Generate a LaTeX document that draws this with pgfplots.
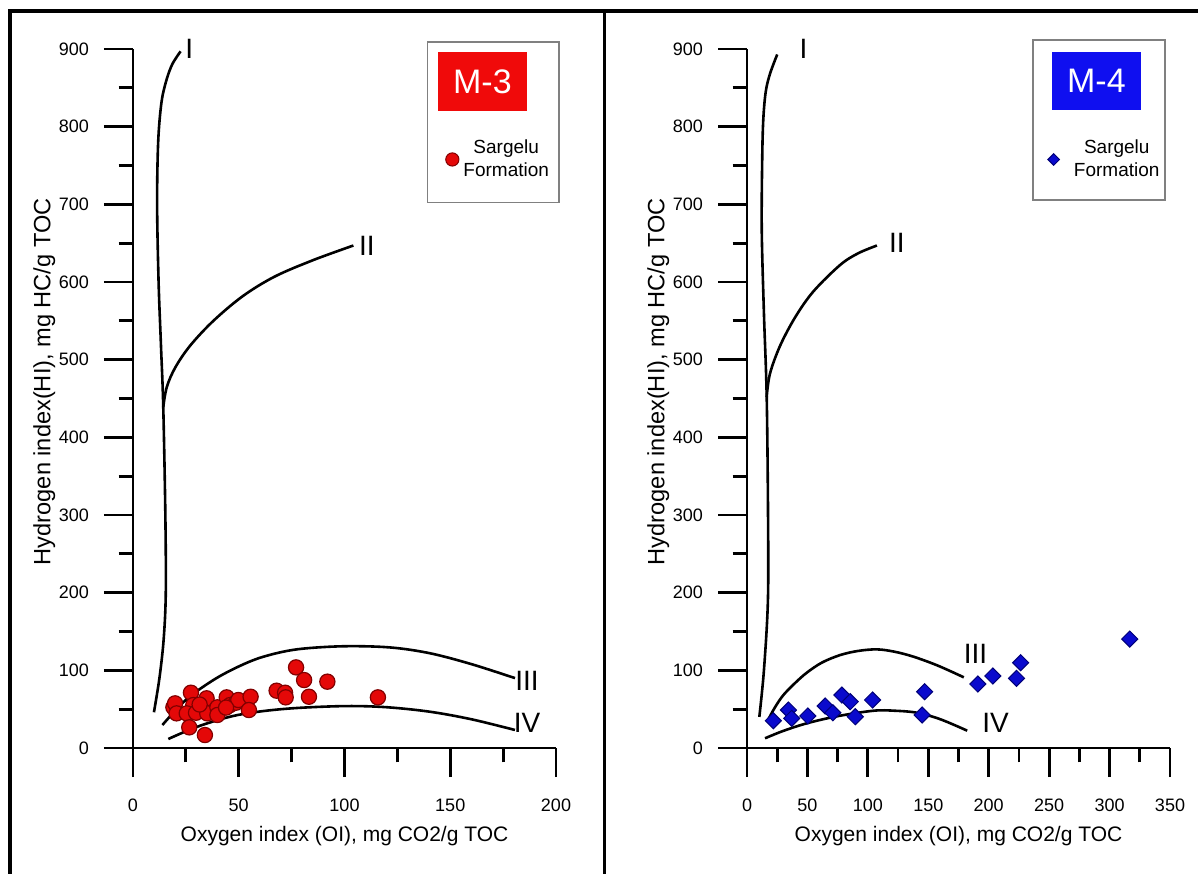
\documentclass[border=0pt]{standalone}
\usepackage{pgfplots}
\pgfplotsset{compat=1.18}
\usepackage{fontspec}
\setmainfont{Liberation Sans}
\definecolor{ptred}{RGB}{228,8,8}
\definecolor{ptredE}{RGB}{130,0,0}
\definecolor{ptblue}{RGB}{10,10,205}
\definecolor{ptblueE}{RGB}{0,0,120}
\definecolor{boxred}{RGB}{240,10,10}
\definecolor{boxblue}{RGB}{15,15,240}
\tikzset{clab/.style={font=\fontsize{14}{16}\selectfont, inner sep=0pt}}
\pgfplotsset{
  vk/.style={
    scale only axis, width=211.5pt, height=349.5pt,
    ymin=0, ymax=900, xmin=0,
    axis x line*=bottom, axis y line*=left,
    axis line style={-, line width=1.4pt},
    tick align=outside,
    major tick length=14.5pt, minor tick length=7.2pt,
    every tick/.style={line width=1.4pt, black},
    ytick={0,100,...,900}, minor ytick={50,150,...,850},
    tick label style={font=\fontsize{9}{11}\selectfont},
    xticklabel style={yshift=-7.5pt},
    yticklabel style={xshift=-4pt},
    /pgf/number format/assume math mode=true,
    clip=false,
    xlabel={Oxygen index (OI), mg CO2/g TOC},
    ylabel={Hydrogen index(HI), mg HC/g TOC},
    xlabel style={font=\fontsize{10.5}{12}\selectfont, at={(axis description cs:0.5,-0.126)}, anchor=center},
    ylabel style={font=\fontsize{11.8}{14}\selectfont, at={(axis description cs:-0.210,0.524)}, anchor=center},
    legend style={draw=none, fill=none, font=\fontsize{9.5}{11.5}\selectfont, nodes={align=center}},
    legend cell align=center,
  },
  curve/.style={black, line width=1.3pt, smooth, tension=0.55, no marks},
}
\begin{document}
\begin{tikzpicture}[x=1pt,y=1pt]
\useasboundingbox (-66.5pt,-62.5pt) rectangle (532.5pt,374pt);
% outer frame
\draw[line width=1.8pt] (-61.5pt,-70pt) -- (-61.5pt,368.5pt) -- (540pt,368.5pt);
\draw[line width=1.5pt] (235.5pt,-70pt) -- (235.5pt,368.5pt);

\begin{axis}[vk, at={(0pt,0pt)}, anchor=south west,
  xmax=200, xtick={0,50,...,200}, minor xtick={25,75,...,175},
  legend style={at={(rel axis cs:0.723,0.842)}, anchor=west}]
\addplot[only marks, mark=*, mark size=3.8pt, mark options={fill=ptred, draw=ptredE, line width=0.6pt},
  legend image code/.code={\draw[fill=ptred, draw=ptredE, line width=0.5pt] (0.2cm,0cm) circle (3.3pt);}]
coordinates {
(19.1,52.4)(19.9,57.5)(20.6,44.6)(27.4,71.2)(28.5,55.3)(25.4,44.6)(29.8,45.4)(26.6,26.6)
(34.8,64)(35.1,44.6)(34,16.7)(39.9,52.4)(39.9,42.5)(44.3,65.2)(45.9,55.3)(48.7,58.3)
(49.8,61.8)(55.6,66)(54.8,48.9)(67.9,73.8)(71.9,71.2)(72.2,65.2)(77.1,103.8)(80.9,87.5)
(83.2,66)(91.9,85.4)(115.8,65.2)(31.5,56)(44,52)
};
\addlegendentry{Sargelu\\Formation}
% curve I
\addplot[curve, forget plot] coordinates {(9.9,46)(12.5,90)(14.5,140)(15.5,200)(15.3,300)(14.3,440)(13.2,520)(12.1,600)(11.4,700)(11.9,780)(13.4,830)(15.6,858)(18.5,880)(22.5,897)};
% curve II
\addplot[curve, forget plot] coordinates {(14.3,439)(16,465)(20,490)(27,518)(38,550)(52,582)(67,607)(85,628)(104.2,647)};
% curve III
\addplot[curve, forget plot] coordinates {(13.9,29.6)(25,62)(38,87.5)(50,105)(61.6,117.5)(77.4,127)(99.4,131)(121.5,129.5)(140.4,122)(160,108)(180.6,90)};
% curve IV
\addplot[curve, forget plot] coordinates {(16.7,11.6)(30,27)(45.9,40.3)(60,47)(77.4,51.5)(101,54)(120,52.5)(140.4,46.7)(160,37)(180.6,23.2)};
\node[clab] at (axis cs:26.6,900) {I};
\node[clab] at (axis cs:110.6,647) {II};
\node[clab] at (axis cs:186.3,86) {III};
\node[clab] at (axis cs:186.3,33) {IV};
\draw[gray, line width=0.6pt] (rel axis cs:0.697,1.010) rectangle (rel axis cs:1.007,0.780);
\node[fill=boxred, text=white, minimum width=44.5pt, minimum height=29.5pt, inner sep=0pt, font=\fontsize{17}{19}\selectfont] at (rel axis cs:0.826,0.9535) {M-3};
\end{axis}

\begin{axis}[vk, at={(307pt,0pt)}, anchor=south west,
  xmax=350, xtick={0,50,...,350}, minor xtick={25,75,...,325},
  legend style={at={(rel axis cs:0.695,0.842)}, anchor=west, column sep=5pt}]
\addplot[only marks, mark=square*, mark size=2.85pt, mark options={rotate=45, fill=ptblue, draw=ptblueE, line width=0.5pt},
  legend image code/.code={\draw[fill=ptblue, draw=ptblueE, line width=0.5pt] (0.2cm,0cm) ++(0,-2.9pt) -- ++(2.9pt,2.9pt) -- ++(-2.9pt,2.9pt) -- ++(-2.9pt,-2.9pt) -- cycle;}]
coordinates {
(21.8,35.1)(34.3,48.9)(37,38.2)(50.3,41.2)(64.7,54.1)(71,45.4)(78.5,68.2)(85.4,59.6)
(89.6,40.3)(103.9,61.8)(147,72.5)(144.9,42.5)(191,82.4)(203.4,92.7)(223,89.7)(226.4,109.8)
(316.7,140.3)
};
\addlegendentry{Sargelu\\Formation}
\addplot[curve, forget plot] coordinates {(10.2,40)(14,100)(17.3,190)(17.4,300)(16.3,452)(14,560)(12.2,667)(12.6,760)(13.5,810)(15.5,845)(19,868)(25,893)};
\addplot[curve, forget plot] coordinates {(16.3,452)(19,482)(27.4,518)(40,555)(55,588)(77.1,622)(92,637)(107.5,647)};
\addplot[curve, forget plot] coordinates {(17,35)(23,52)(30,68)(40,84)(49.5,97)(62,110)(77.1,119.7)(92,125)(107.5,127)(122,124)(137.9,117.5)(158,106)(179.4,91)};
\addplot[curve, forget plot] coordinates {(14.9,12.5)(30,22)(49.5,31.8)(75,41)(104.7,48)(122,48)(140.7,45.4)(160,37)(182.2,22.3)};
\node[clab] at (axis cs:46.7,900) {I};
\node[clab] at (axis cs:124,650) {II};
\node[clab] at (axis cs:189,121) {III};
\node[clab] at (axis cs:205.6,32) {IV};
\draw[gray, line width=0.6pt] (rel axis cs:0.676,1.013) rectangle (rel axis cs:0.988,0.784);
\node[fill=boxblue, text=white, minimum width=44.5pt, minimum height=29pt, inner sep=0pt, font=\fontsize{17}{19}\selectfont] at (rel axis cs:0.826,0.954) {M-4};
\end{axis}
\end{tikzpicture}
\end{document}
